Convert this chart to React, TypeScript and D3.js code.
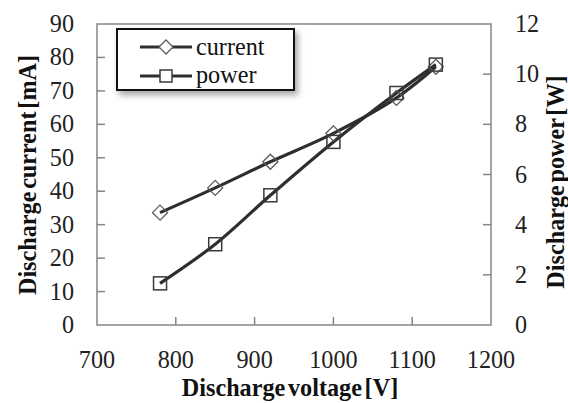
import React from "react";
import * as d3 from "d3";

const voltages = [780, 850, 920, 1000, 1080, 1130];
const currentValues = [33.6, 41.0, 48.8, 57.3, 67.9, 77.2];
const powerValues = [1.66, 3.22, 5.17, 7.3, 9.25, 10.38];
const xTicks = [700, 800, 900, 1000, 1100, 1200];
const leftTicks = [0, 10, 20, 30, 40, 50, 60, 70, 80, 90];
const rightTicks = [0, 2, 4, 6, 8, 10, 12];

const W = 568;
const H = 403;
const M = { left: 97, top: 24, right: 491, bottom: 325 };
const FF = '"Liberation Serif"';
const S = 1.1;

export default function App() {
  const x = d3.scaleLinear().domain([700, 1200]).range([M.left, M.right]);
  const yL = d3.scaleLinear().domain([0, 90]).range([M.bottom, M.top]);
  const yR = d3.scaleLinear().domain([0, 12]).range([M.bottom, M.top]);

  const curPts: [number, number][] = voltages.map((v, i) => [x(v), yL(currentValues[i])]);
  const powPts: [number, number][] = voltages.map((v, i) => [x(v), yR(powerValues[i])]);
  const line = d3.line().curve(d3.curveCatmullRom.alpha(0.5));

  const axisColor = "#868686";
  const lineColor = "#2e2e2e";
  const markColor = "#5a5a5a";

  const diamond = (cx: number, cy: number, r: number) =>
    `M${cx},${cy - r}L${cx + r},${cy}L${cx},${cy + r}L${cx - r},${cy}Z`;

  const reg = { fontFamily: FF, fontSize: 22 };
  const bold = { fontFamily: FF, fontSize: 22, fontWeight: 700, wordSpacing: -3 };

  return (
    <svg width={W} height={H} style={{ position: "absolute", left: 0, top: 0 }}>
      <defs>
        <filter id="shadow" x="-20%" y="-30%" width="150%" height="180%">
          <feDropShadow dx="3" dy="4" stdDeviation="3" floodColor="#000" floodOpacity="0.35" />
        </filter>
      </defs>

      <rect
        x={M.left}
        y={M.top}
        width={M.right - M.left}
        height={M.bottom - M.top}
        fill="none"
        stroke={axisColor}
        strokeWidth={1.5}
      />

      {xTicks.map((t) => (
        <g key={"xt" + t}>
          {t > 700 && t < 1200 && (
            <line x1={x(t)} x2={x(t)} y1={M.bottom} y2={M.bottom - 8} stroke={axisColor} strokeWidth={1.5} />
          )}
          <text transform={`translate(${x(t)},368) scale(${S})`} textAnchor="middle" fill="#222" style={reg}>
            {t}
          </text>
        </g>
      ))}

      {leftTicks.map((t) => (
        <g key={"lt" + t}>
          {t > 0 && t < 90 && (
            <line x1={M.left} x2={M.left + 8} y1={yL(t)} y2={yL(t)} stroke={axisColor} strokeWidth={1.5} />
          )}
          <text transform={`translate(74,${yL(t) + 8}) scale(${S})`} textAnchor="end" fill="#222" style={reg}>
            {t}
          </text>
        </g>
      ))}

      {rightTicks.map((t) => (
        <g key={"rt" + t}>
          {t > 0 && t < 12 && (
            <line x1={M.right} x2={M.right - 8} y1={yR(t)} y2={yR(t)} stroke={axisColor} strokeWidth={1.5} />
          )}
          <text transform={`translate(515,${yR(t) + 8}) scale(${S})`} textAnchor="start" fill="#222" style={reg}>
            {t}
          </text>
        </g>
      ))}

      <path d={line(curPts) || ""} fill="none" stroke={lineColor} strokeWidth={3.2} strokeLinejoin="round" />
      <path d={line(powPts) || ""} fill="none" stroke={lineColor} strokeWidth={3.2} strokeLinejoin="round" />

      {curPts.map(([cx, cy], i) => (
        <path key={"d" + i} d={diamond(cx, cy, 7.5)} fill="none" stroke={markColor} strokeWidth={1.3} />
      ))}
      {powPts.map(([cx, cy], i) => (
        <rect key={"s" + i} x={cx - 6.5} y={cy - 6.5} width={13} height={13} fill="none" stroke={"#3a3a3a"} strokeWidth={1.5} />
      ))}

      <rect x={117} y={29} width={177} height={61} fill="#fff" stroke="#111" strokeWidth={2} filter="url(#shadow)" />
      <rect x={117} y={29} width={177} height={61} fill="#fff" stroke="#111" strokeWidth={2} />
      <line x1={140} x2={192} y1={47} y2={47} stroke={lineColor} strokeWidth={3.2} />
      <path d={diamond(166, 47, 7)} fill="#fff" stroke={markColor} strokeWidth={1.3} />
      <text transform={`translate(196,55) scale(${S})`} fill="#111" style={reg}>current</text>
      <line x1={140} x2={192} y1={76} y2={76} stroke={lineColor} strokeWidth={3.2} />
      <rect x={160} y={70} width={12} height={12} fill="#fff" stroke="#3a3a3a" strokeWidth={1.5} />
      <text transform={`translate(196,83) scale(${S})`} fill="#111" style={reg}>power</text>

      <text transform={`translate(290,396) scale(${S})`} textAnchor="middle" fill="#111" style={bold}>
        Discharge voltage [V]
      </text>
      <text transform={`translate(36,175) rotate(-90) scale(${S})`} textAnchor="middle" fill="#111" style={bold}>
        Discharge current [mA]
      </text>
      <text transform={`translate(564,182) rotate(-90) scale(${S})`} textAnchor="middle" fill="#111" style={bold}>
        Discharge power [W]
      </text>
    </svg>
  );
}
